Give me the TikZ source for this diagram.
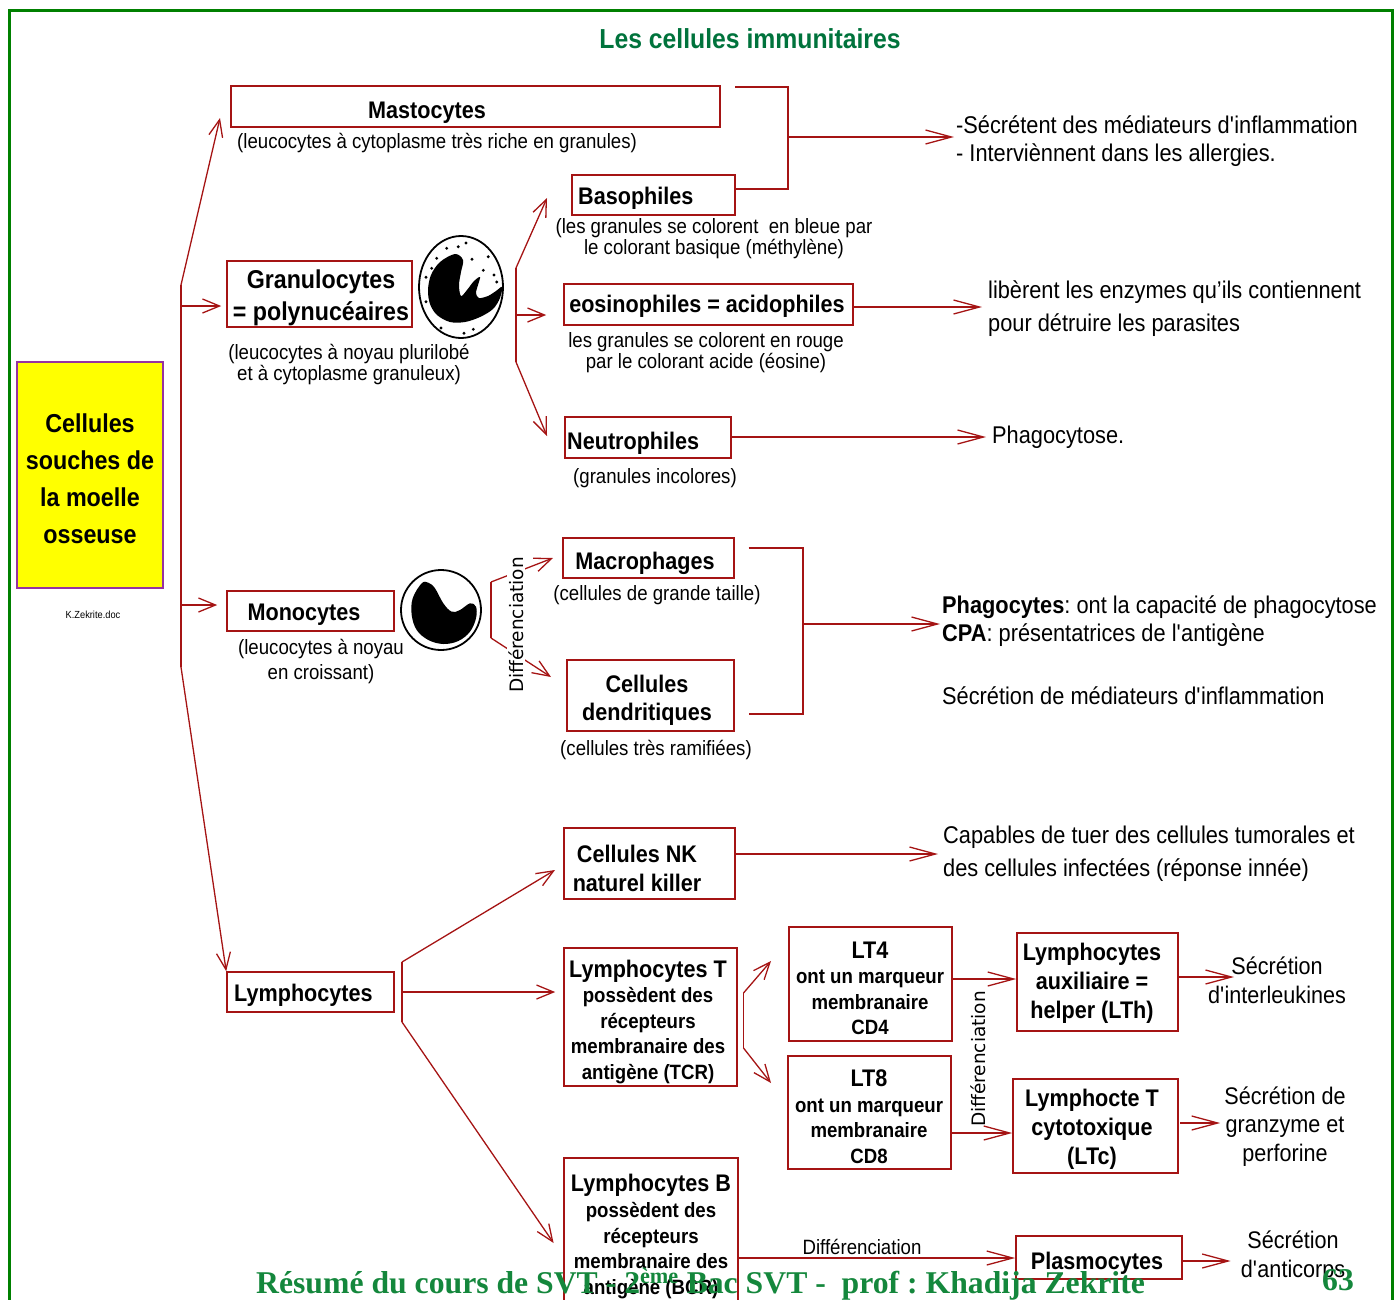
\documentclass[tikz,border=0pt]{standalone}
\usepackage{fontspec}
\setmainfont{Liberation Sans}[FakeStretch=0.9]
\newfontfamily\dejavu{DejaVu Sans}
\newfontfamily\serifb{Liberation Serif}
\usetikzlibrary{arrows.meta}

\definecolor{dred}{RGB}{165,20,20}
\definecolor{framegreen}{RGB}{0,128,0}
\definecolor{titlegreen}{RGB}{0,115,60}
\definecolor{footgreen}{RGB}{20,135,60}
\definecolor{stemfill}{RGB}{255,255,0}
\definecolor{stemedge}{RGB}{150,50,160}

\newcommand\fsz[2]{\fontsize{#1}{#2}\selectfont}
\newcommand\ap{\textquotesingle}

\tikzset{
  box/.style={draw=dred, line width=1.6pt, fill=white, inner sep=0pt},
  lbl/.style={inner sep=0pt, align=center, yshift=-2.5pt},
  bt/.style={lbl, font=\bfseries\fsz{24}{29}},
  sub/.style={lbl, font=\fsz{20.7}{21}},
  side/.style={inner sep=0pt, anchor=west, align=left, yshift=-2.5pt, font=\fsz{24.2}{28}},
  secr/.style={lbl, font=\fsz{24}{28.5}},
  link/.style={draw=dred, line width=1.3pt},
  arr/.style={link, -{Straight Barb[length=26pt,width=14pt]}},
  arrs/.style={link, -{Straight Barb[length=17pt,width=14pt]}},
  diffv/.style={font=\dejavu\fsz{18.5}{20}, rotate=90, fill=white, inner sep=1pt},
}

\begin{document}
\frenchspacing
\begin{tikzpicture}[x=1pt,y=-1pt]
\useasboundingbox (0,0) rectangle (1400,1299);
\clip (0,0) rectangle (1400,1299);

% page frame
\draw[framegreen, line width=3pt] (9,1310) -- (9,10.5) -- (1392,10.5) -- (1392,1310);

% title
\node[font=\bfseries\fsz{27.5}{30}, text=titlegreen] (title) at (750,39) {Les cellules immunitaires};

% stem cells
\node[draw=stemedge, fill=stemfill, line width=1.2pt, minimum width=146pt, minimum height=226pt] (stem) at (90,475) {};
\node[lbl, font=\bfseries\fsz{25.9}{37}] (stemT) at (90,476) {Cellules\\souches de\\la moelle\\osseuse};
\node[font=\fsz{10.3}{12}] (doc) at (93,615) {K.Zekrite.doc};

% ---------- granulocyte line ----------
\node[box, minimum width=489pt, minimum height=41pt] (mast) at (475.5,106.5) {};
\node[bt] (mastT) at (427,110) {Mastocytes};
\node[sub, anchor=west] (mastS) at (237,141) {(leucocytes à cytoplasme très riche en granules)};

\node[box, minimum width=185pt, minimum height=66pt] (granu) at (319.5,294) {};
\node[lbl, font=\bfseries\fsz{25.8}{32}] (granuT) at (321,295) {Granulocytes\\= polynucéaires};
\node[sub] (granuS) at (349,362) {(leucocytes à noyau plurilobé\\et à cytoplasme granuleux)};

\node[box, minimum width=163pt, minimum height=40pt] (baso) at (653.5,195) {};
\node[bt, anchor=west] (basoT) at (578,196) {Basophiles};
\node[sub] (basoS) at (714,236) {(les granules se colorent~~en bleue par\\le colorant basique (méthylène)};

\node[box, minimum width=289pt, minimum height=41pt] (eosi) at (708.5,304.5) {};
\node[bt] (eosiT) at (707,304) {eosinophiles = acidophiles};
\node[sub] (eosiS) at (706,350) {les granules se colorent en rouge\\par le colorant acide (éosine)};

\node[box, minimum width=166pt, minimum height=41pt] (neutro) at (648,437.5) {};
\node[bt, anchor=west] (neutroT) at (567,441) {Neutrophiles};
\node[sub] (neutroS) at (655,476) {(granules incolores)};

% granulocyte drawing: lobed nucleus and granules
\draw[line width=1.8pt] (461,287) ellipse [x radius=42, y radius=51];
\fill[black] plot[smooth cycle, tension=0.55] coordinates {
  (455,254) (440,262) (431,275) (428,290) (430,304) (437,315) (450,322)
  (465,322) (480,317) (493,309) (500,298) (502,287) (496,291) (488,296)
  (479,298) (476,293) (478,285) (480,277) (474,281) (467,290) (461,296)
  (459,285) (461,272) (463,260)};
\foreach \p in {(446.7,248.3),(458.3,246.7),(466,243),(436.7,258.3),(488.3,256.7),
  (472,259.3),(483.3,270.3),(494,275),(496.7,282),(469,303),(426,277.3),
  (426,301.7),(464,333.3),(473.3,329.3),(431.7,268.3),(441,328)}
  \fill[black] \p circle (1.6);

% ---------- monocyte line ----------
\node[box, minimum width=167pt, minimum height=40pt] (mono) at (310.5,611) {};
\node[bt] (monoT) at (304,612) {Monocytes};
\node[sub, font=\fsz{20.7}{25}] (monoS) at (321,659) {(leucocytes à noyau\\en croissant)};

% monocyte drawing: crescent nucleus
\draw[line width=1.8pt] (441,610) circle (40);
\fill[black] plot[smooth cycle, tension=0.6] coordinates {
  (421.7,583.3) (428.3,582.7) (435,588.3) (443.3,603.3) (451.7,611.7) (460,610)
  (470,603.3) (476,606.7) (476,618.3) (470,631.7) (458.3,641) (443.3,644)
  (428.3,640) (416.7,630) (411.7,615) (412.7,598.3)};

\node[box, minimum width=171pt, minimum height=40pt] (macro) at (648.5,558) {};
\node[bt] (macroT) at (645,561) {Macrophages};
\node[sub] (macroS) at (657,593) {(cellules de grande taille)};

\node[box, minimum width=167pt, minimum height=71pt] (dendri) at (650.5,695.5) {};
\node[lbl, font=\bfseries\fsz{24}{28}] (dendriT) at (647,698) {Cellules\\dendritiques};
\node[sub] (dendriS) at (656,748) {(cellules très ramifiées)};

% ---------- lymphocyte line ----------
\node[box, minimum width=167pt, minimum height=40pt] (lympho) at (310.5,992) {};
\node[bt, anchor=west] (lymphoT) at (234,993) {Lymphocytes};

\node[box, minimum width=171pt, minimum height=71pt] (nk) at (649.5,863.5) {};
\node[lbl, font=\bfseries\fsz{24}{29}] (nkT) at (637,866) {Cellules NK\\naturel killer};

\node[box, minimum width=173pt, minimum height=138pt] (lt) at (650.5,1017) {};
\node[lbl, font=\bfseries\fsz{20.7}{25.5}] (ltT) at (648,1019)
  {{\fsz{24}{27}Lymphocytes T}\\possèdent des\\récepteurs\\membranaire des\\antigène (TCR)};

\node[box, minimum width=163pt, minimum height=114pt] (lt4) at (870.5,984) {};
\node[lbl, font=\bfseries\fsz{20.7}{25.5}] (lt4T) at (870,986)
  {{\fsz{24}{26}LT4}\\ont un marqueur\\membranaire\\CD4};
\node[box, minimum width=163pt, minimum height=113pt] (lt8) at (869.5,1112.5) {};
\node[lbl, font=\bfseries\fsz{20.7}{25.5}] (lt8T) at (869,1114)
  {{\fsz{24}{26}LT8}\\ont un marqueur\\membranaire\\CD8};

\node[box, minimum width=161pt, minimum height=98pt] (lth) at (1097.5,982) {};
\node[lbl, font=\bfseries\fsz{24}{29}] (lthT) at (1092,981) {Lymphocytes\\auxiliaire =\\helper (LTh)};
\node[box, minimum width=165pt, minimum height=94pt] (ltc) at (1095.5,1126) {};
\node[lbl, font=\bfseries\fsz{24}{29}] (ltcT) at (1092,1127) {Lymphocte T\\cytotoxique\\(LTc)};

\node[box, minimum width=174pt, minimum height=152pt] (lb) at (651,1234) {};
\node[lbl, font=\bfseries\fsz{20.7}{25.7}] (lbT) at (651,1234)
  {{\fsz{24}{27}Lymphocytes B}\\possèdent des\\récepteurs\\membranaire des\\antigène (BCR)};

\node[box, minimum width=166pt, minimum height=43pt] (plasmo) at (1099,1257.5) {};
\node[bt] (plasmoT) at (1097,1261) {Plasmocytes};

% ---------- effects ----------
\node[side] (eff1) at (956,139) {-Sécrétent des médiateurs d\ap inflammation\\- Interviènnent dans les allergies.};
\node[side, font=\fsz{24.2}{33}] (eff2) at (988,306.5) {libèrent les enzymes qu’ils contiennent\\pour détruire les parasites};
\node[side] (eff3) at (992,435) {Phagocytose.};
\node[side] (eff4) at (942,619) {\textbf{Phagocytes}: ont la capacité de phagocytose\\\textbf{CPA}: présentatrices de l\ap antigène};
\node[side] (eff5) at (942,693) {Sécrétion de médiateurs d\ap inflammation};
\node[side, font=\fsz{24.2}{33}] (eff6) at (943,851) {Capables de tuer des cellules tumorales et\\des cellules infectées (réponse innée)};
\node[secr] (sec1) at (1277,978) {Sécrétion\\d\ap interleukines};
\node[secr] (sec2) at (1285,1124) {Sécrétion de\\granzyme et\\perforine};
\node[secr] (sec3) at (1293,1254) {Sécrétion\\d\ap anticorps};
\node[lbl, font=\fsz{20.7}{22}] (diff3) at (862,1244) {Différenciation};

% ---------- connectors ----------
% main trunk from the stem cells
\coordinate (tTop) at (181,285);
\coordinate (tBot) at (181,667);
\coordinate (tG) at (181,306);
\coordinate (tM) at (181,605);
\coordinate (mastIn) at (220,118);
\draw[link] (tTop) -- (tBot);
\draw[arrs] (tTop) -- (mastIn);
\draw[arrs] (tG) -- ([xshift=-5pt]tG -| granu.west);
\draw[arrs] (tM) -- ([xshift=-9pt]tM -| mono.west);
\draw[arrs] (tBot) -- (lympho.north west);

% granulocyte branches
\coordinate (gTop) at (516,268);
\coordinate (gMid) at (516,315);
\coordinate (gBot) at (516,362);
\coordinate (basoIn) at (547,198);
\coordinate (neutroIn) at (547,436);
\draw[link] (gTop) -- (gBot);
\draw[arrs] (gTop) -- (basoIn);
\draw[arrs] (gMid) -- ([xshift=-17pt]gMid -| eosi.west);
\draw[arrs] (gBot) -- (neutroIn);

% mastocytes + basophiles bracket
\coordinate (mastR) at (735,87);
\coordinate (basoR) at (735,189);
\coordinate (brMid) at (788,137);
\draw[link] (mastR) -- (mastR -| brMid) -- (basoR -| brMid) -- (basoR);
\draw[arr] (brMid) -- ([xshift=-2pt]brMid -| eff1.west);

\coordinate (eosiR) at (853,307);
\draw[arr] (eosiR) -- ([xshift=-6pt]eosiR -| eff2.west);
\coordinate (neutroR) at (731,437);
\draw[arr] (neutroR) -- ([xshift=-6pt]neutroR -| eff3.west);

% monocyte differentiation
\coordinate (mdTop) at (491,582);
\coordinate (mdBot) at (491,638);
\coordinate (macroIn) at (553,558);
\coordinate (dendriIn) at (551,677);
\draw[link] (mdTop) -- (mdBot);
\draw[arrs] (mdTop) -- (macroIn);
\draw[arrs] (mdBot) -- (dendriIn);
\node[diffv] (diff1) at (516,625) {Différenciation};

% macrophages + dendritic cells bracket
\coordinate (macroR) at (748.5,548);
\coordinate (dendriR) at (748.5,714);
\coordinate (mdMid) at (803,624);
\draw[link] (macroR) -- (macroR -| mdMid) -- (dendriR -| mdMid) -- (dendriR);
\draw[arr] (mdMid) -- ([xshift=-2pt]mdMid -| eff4.west);

% lymphocyte branches
\coordinate (lTop) at (402,962);
\coordinate (lMid) at (402,992);
\coordinate (lBot) at (402,1022);
\coordinate (nkIn) at (555,870);
\coordinate (lbIn) at (553.6,1243);
\draw[link] (lTop) -- (lBot);
\draw[arrs] (lTop) -- (nkIn);
\draw[arrs] (lMid) -- ([xshift=-8pt]lMid -| lt.west);
\draw[arrs] (lBot) -- (lbIn);

\coordinate (nkR) at (735,854);
\draw[arr] (nkR) -- ([xshift=-5pt]nkR -| eff6.west);

% T lymphocyte branches
\coordinate (ltTop) at (743.5,993);
\coordinate (ltBot) at (743.5,1048);
\coordinate (lt4In) at (771,961);
\coordinate (lt8In) at (771,1083);
\draw[link] (ltTop) -- (ltBot);
\draw[arrs] (ltTop) -- (lt4In);
\draw[arrs] (ltBot) -- (lt8In);

\node[diffv] (diff2) at (978,1059) {Différenciation};
\coordinate (lt4R) at (952,979);
\coordinate (lt8R) at (951,1133);
\draw[arr] (lt4R) -- (lt4R -| lth.west);
\draw[arr] (lt8R) -- (lt8R -| ltc.west);

\coordinate (lthR) at (1178,977);
\coordinate (sec1In) at (1234,977);
\draw[arr] (lthR) -- (sec1In);
\coordinate (ltcR) at (1180,1123);
\draw[arr] (ltcR) -- ([xshift=-4pt]ltcR -| sec2.west);
\coordinate (plasmoR) at (1182,1261);
\draw[arr] (plasmoR) -- ([xshift=-10pt]plasmoR -| sec3.west);
\coordinate (lbR) at (738,1258);
\draw[arr] (lbR) -- (lbR -| plasmo.west);

% footer
\node[anchor=base west, inner sep=0pt, font=\serifb\bfseries\fsz{31.7}{32}, text=footgreen] (foot) at (256,1293)
  {Résumé du cours de SVT - 2\textsuperscript{ème} Bac SVT -~ prof : Khadija Zekrite};
\node[anchor=base west, inner sep=0pt, font=\serifb\bfseries\fsz{31.7}{32}, text=footgreen] (page) at (1322,1290) {63};
\end{tikzpicture}
\end{document}
